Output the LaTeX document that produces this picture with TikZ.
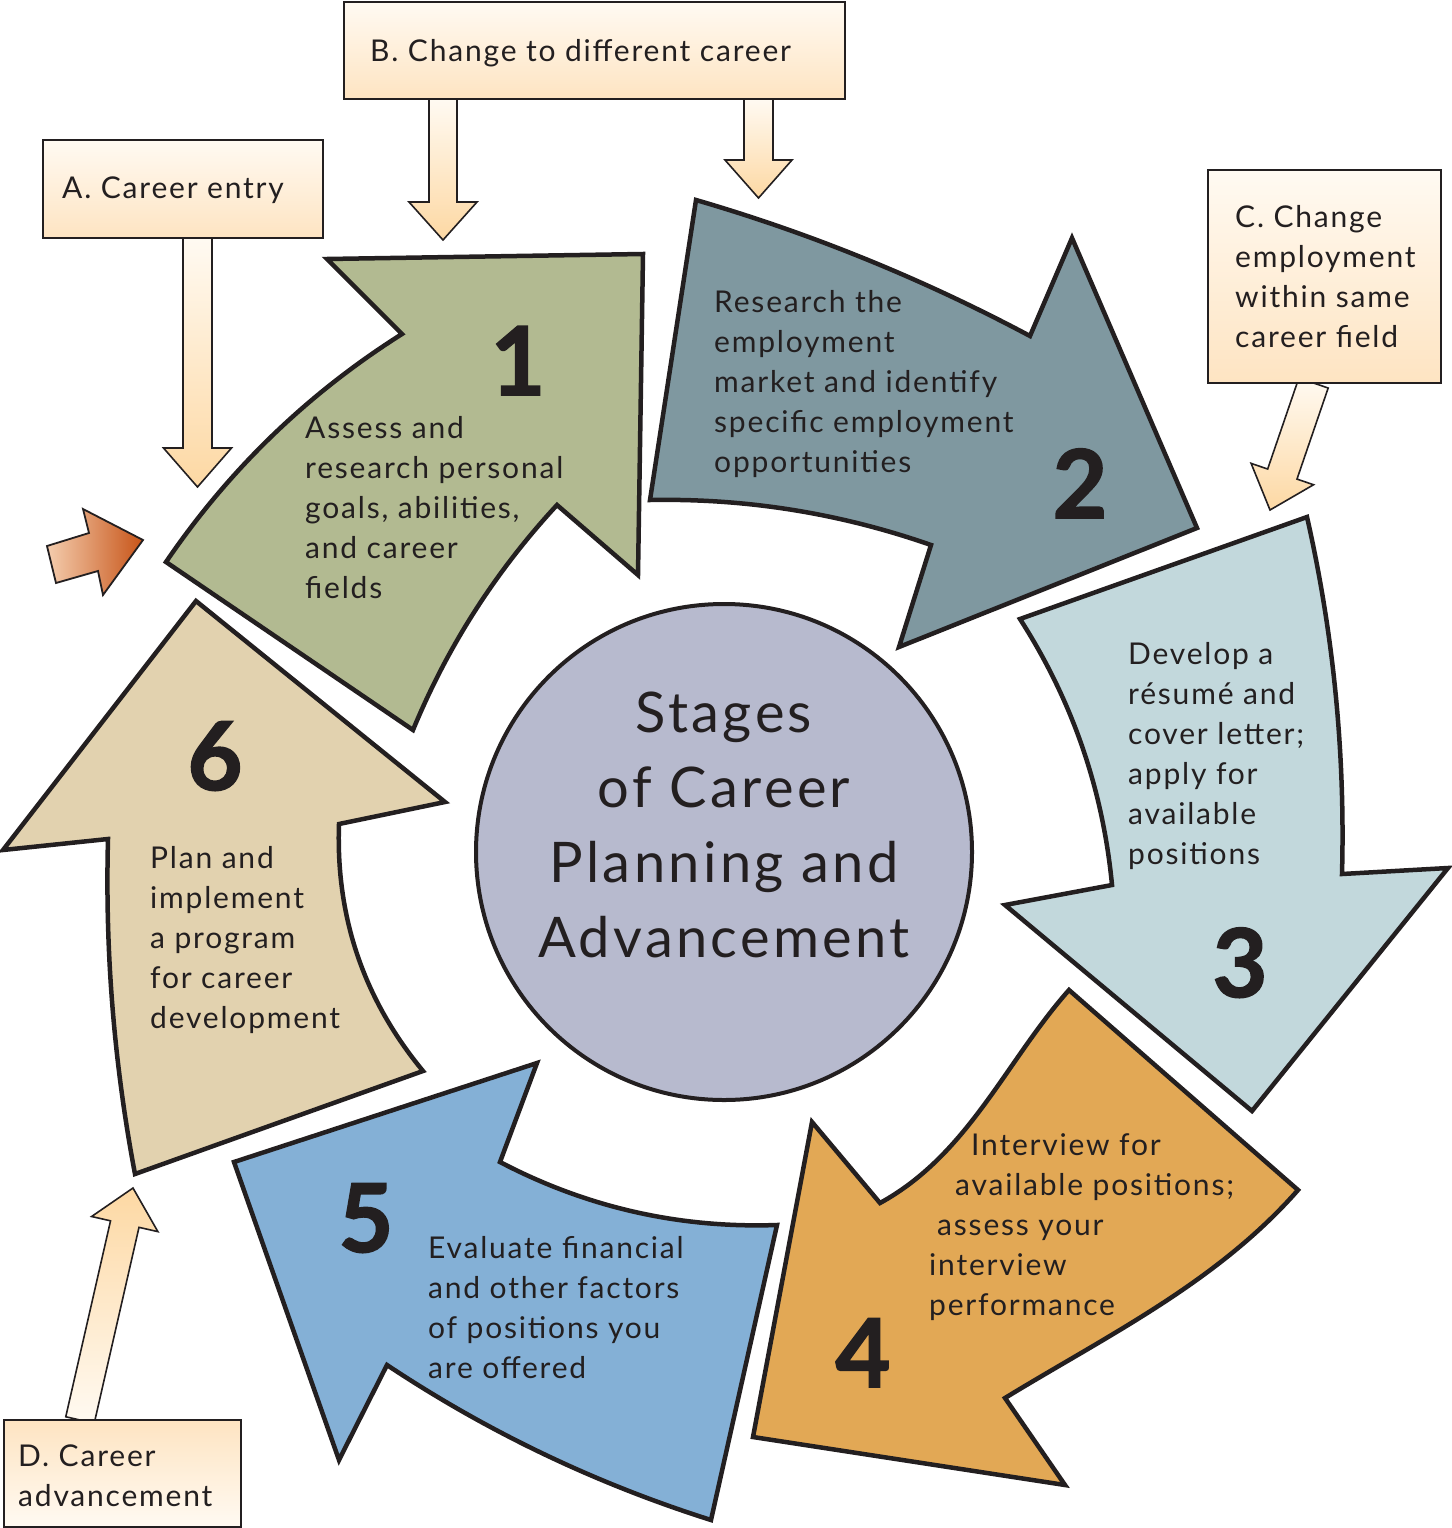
\documentclass[tikz,border=0pt]{standalone}
\usepackage{fontspec}
\setmainfont{Lato}[LetterSpace=6]
\newfontfamily\numfont{Lato}[BoldFeatures={FakeBold=1.6}]
\usetikzlibrary{calc}
\definecolor{ink}{HTML}{231F20}
\definecolor{cgreen}{HTML}{B2BA91}
\definecolor{cslate}{HTML}{7F98A0}
\definecolor{clblue}{HTML}{C2D8DC}
\definecolor{corange}{HTML}{E2A855}
\definecolor{cblue}{HTML}{84B0D6}
\definecolor{ctan}{HTML}{E2D2AF}
\definecolor{ccircle}{HTML}{B7BACE}
\definecolor{plight}{HTML}{FFFAF2}
\definecolor{pmid}{HTML}{FEE4C2}
\definecolor{ppeach}{HTML}{FDD8A3}
\definecolor{olight}{HTML}{F4CDAE}
\definecolor{odark}{HTML}{C75418}
% fat straight arrow: #1 start, #2 tip, #3 half shaft width, #4 half head width, #5 head length, #6 style
\newcommand\fatarr[6]{%
  \path ($(#2)!#5!(#1)$) coordinate (fh);
  \draw[#6] ($(#1)!#3!90:(#2)$) -- ($(fh)!#3!90:(#2)$) -- ($(fh)!#4!90:(#2)$) -- (#2)
     -- ($(fh)!#4!-90:(#2)$) -- ($(fh)!#3!-90:(#2)$) -- ($(#1)!#3!-90:(#2)$) -- cycle;}
\begin{document}
\begin{tikzpicture}[x=1pt,y=-1pt,
  bigarrow/.style={draw=ink, line width=4.5pt, line join=miter},
  parrow/.style={draw=ink, line width=1.6pt, line join=miter, top color=plight, bottom color=ppeach},
  parrowup/.style={draw=ink, line width=1.6pt, line join=miter, top color=ppeach, bottom color=plight},
  pbox/.style={draw=ink, line width=1.6pt, top color=plight, bottom color=pmid},
  pboxup/.style={draw=ink, line width=1.6pt, top color=pmid, bottom color=plight},
  lbl/.style={anchor=base west, inner sep=0, text=ink, font=\fontsize{30}{40}\selectfont},
  num/.style={anchor=base, inner sep=0, text=ink, font=\numfont\fontsize{95}{95}\selectfont\bfseries},
]
\useasboundingbox (0,0) rectangle (1451,1528);

% ---- six stage arrows ----
\draw[bigarrow, fill=cgreen] (557,505) .. controls (495.5,571.4) and (447.5,646.4) .. (413,730)
  -- (166,562) .. controls (228.9,469.7) and (307.5,393.7) .. (402,334)
  -- (327,259) -- (643,254) -- (638,575) -- cycle;
\draw[bigarrow, fill=cslate] (931,545) .. controls (840,513.2) and (746.4,498.2) .. (650,500)
  -- (696,200) .. controls (812,233.8) and (923.4,279.2) .. (1030,336)
  -- (1072,238) -- (1197,528) -- (899,647) -- cycle;
\draw[bigarrow, fill=clblue] (1112,885) .. controls (1102.8,788.9) and (1072.2,700.3) .. (1020,619)
  -- (1307,517) .. controls (1333.6,634.5) and (1345.2,753.5) .. (1342,874)
  -- (1448,868) -- (1252,1111) -- (1005,905) -- cycle;
\draw[bigarrow, fill=corange] (880,1203) .. controls (968.4,1154.6) and (1006,1061) .. (1069,990)
  -- (1298,1190) .. controls (1216.8,1282.5) and (1107.5,1335.4) .. (1005,1398)
  -- (1065,1485) -- (753,1437) -- (812,1122) -- cycle;
\draw[bigarrow, fill=cblue] (500,1162) .. controls (586.7,1207.4) and (679.1,1228.4) .. (777,1225)
  -- (711,1520) .. controls (595.7,1483.5) and (487.7,1431.9) .. (387,1365)
  -- (339,1460) -- (234,1162) -- (537,1063) -- cycle;
\draw[bigarrow, fill=ctan] (339,824) .. controls (335.7,916.9) and (363.7,999.3) .. (423,1071)
  -- (135,1174) .. controls (114,1063.3) and (105,951.7) .. (108,839)
  -- (3,850) -- (196,601) -- (445,802) -- cycle;

% ---- centre ----
\node[circle, draw=ink, line width=4pt, fill=ccircle, minimum size=496pt, inner sep=0] (hub) at (724,852) {};
\node[anchor=base, inner sep=0, text=ink, font=\fontsize{56}{75}\selectfont] (hubtext) at (724,732)
  {\begin{tabular}[t]{@{}c@{}}Stages\\of Career\\Planning and\\Advancement\end{tabular}};

% ---- stage texts ----
\node[lbl] (t1) at (305,438) {\begin{tabular}[t]{@{}l@{}}Assess and\\research personal\\goals, abilities,\\and career\\fields\end{tabular}};
\node[lbl] (t2) at (714,312) {\begin{tabular}[t]{@{}l@{}}Research the\\employment\\market and identify\\specific employment\\opportunities\end{tabular}};
\node[lbl] (t3) at (1128,664) {\begin{tabular}[t]{@{}l@{}}Develop a\\résumé and\\cover letter;\\apply for\\available\\positions\end{tabular}};
\node[lbl] (t4) at (929,1155) {\begin{tabular}[t]{@{}l@{}}\hspace*{42pt}Interview for\\\hspace*{26pt}available positions;\\\hspace*{8pt}assess your\\interview\\performance\end{tabular}};
\node[lbl] (t5) at (428,1258) {\begin{tabular}[t]{@{}l@{}}Evaluate financial\\and other factors\\of positions you\\are offered\end{tabular}};
\node[lbl] (t6) at (150,868) {\begin{tabular}[t]{@{}l@{}}Plan and\\implement\\a program\\for career\\development\end{tabular}};

\node[num] (n1) at (518,395) {1};
\node[num] (n2) at (1080,518) {2};
\node[num] (n3) at (1240,997) {3};
\node[num] (n4) at (863,1387) {4};
\node[num] (n5) at (366,1252) {5};
\node[num] (n6) at (215,790) {6};

% ---- entry arrows ----
\coordinate (aS) at (197.5,238); \coordinate (aT) at (197.5,487);
\fatarr{aS}{aT}{14.5pt}{34pt}{39pt}{parrow}
\coordinate (bS1) at (443,99); \coordinate (bT1) at (443,240);
\fatarr{bS1}{bT1}{14pt}{34pt}{38pt}{parrow}
\coordinate (bS2) at (758.5,99); \coordinate (bT2) at (758.5,198);
\fatarr{bS2}{bT2}{14.5pt}{33.5pt}{38pt}{parrow}
\coordinate (cS) at (1313.5,383); \coordinate (cT) at (1270,510);
\fatarr{cS}{cT}{15.5pt}{33pt}{38pt}{parrow}
\coordinate (dS) at (80,1420); \coordinate (dT) at (133,1188);
\fatarr{dS}{dT}{14.6pt}{34pt}{37pt}{parrowup}

% ---- boxes ----
\path[pbox] (43,140) rectangle (323,238);
\node[lbl] (ta) at (62,198) {A. Career entry};
\path[pbox] (344,2) rectangle (845,99);
\node[lbl] (tb) at (370,62) {B. Change to different career};
\path[pbox] (1208,170) rectangle (1441,383);
\node[lbl] (tc) at (1235,227) {\begin{tabular}[t]{@{}l@{}}C. Change\\employment\\within same\\career field\end{tabular}};
\path[pboxup] (4,1420) rectangle (241,1527);
\node[lbl] (td) at (18,1466) {\begin{tabular}[t]{@{}l@{}}D. Career\\advancement\end{tabular}};

% ---- small orange arrow ----
\draw[draw=ink, line width=1.8pt, line join=miter, left color=olight, right color=odark]
  (47,546) -- (89,533) -- (83,509) -- (143,540) -- (103,595) -- (98,571) -- (56,583) -- cycle;
\end{tikzpicture}
\end{document}
